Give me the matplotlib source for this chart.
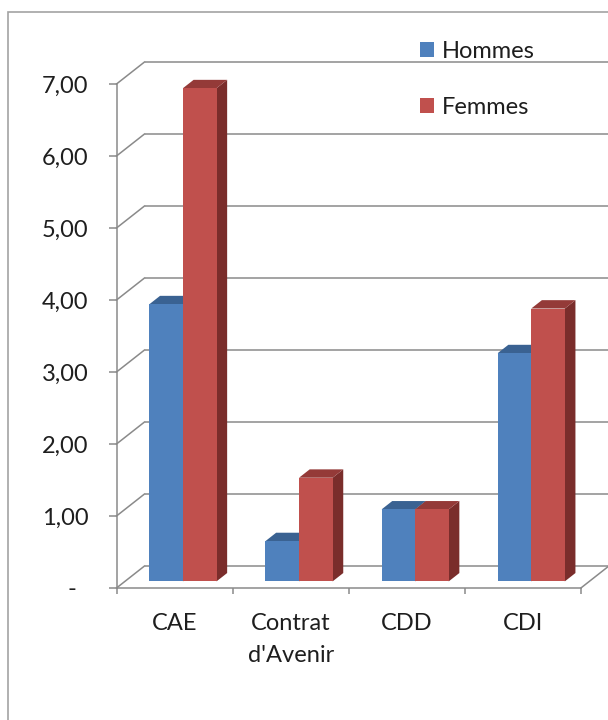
import matplotlib
matplotlib.use("Agg")
import matplotlib.pyplot as plt
from matplotlib.patches import Polygon, Patch, Rectangle

# Contract types and values per gender
categories = ["CAE", "Contrat\nd'Avenir", "CDD", "CDI"]
series_names = ["Hommes", "Femmes"]
hommes = [3.85, 0.56, 1.00, 3.17]
femmes = [6.85, 1.44, 1.00, 3.79]
y_ticks = [0, 1, 2, 3, 4, 5, 6, 7]
y_tick_labels = ["-  ", "1,00", "2,00", "3,00", "4,00", "5,00", "6,00", "7,00"]

# Colours (front, top, side) per series
face_colors = {
    "Hommes": ("#4F81BD", "#3A6292", "#2F5279"),
    "Femmes": ("#C0504D", "#943A38", "#7A2D2B"),
}
grid_color = "#8A8A8A"
text_color = "#1E1E1E"

plt.rcParams["font.family"] = ["Lato", "DejaVu Sans"]
FS = 17

W, H, DPI = 608, 720, 100
fig = plt.figure(figsize=(W / DPI, H / DPI), dpi=DPI)
ax = fig.add_axes([0, 0, 1, 1])

# Pixel geometry of the front plane
x0_px, unit_x = 116.5, 116.1      # category 0 edge and width of one category
y0_px, unit_y = 588.0, 72.0       # value 0 (from top) and px per unit
ax.set_xlim(-x0_px / unit_x, (W - x0_px) / unit_x)
ax.set_ylim(-(H - y0_px) / unit_y, y0_px / unit_y)

# Oblique depth offset of the back wall, in data units
DX = 28.0 / unit_x
DY = 22.0 / unit_y
n = len(categories)
ymax = max(y_ticks)

# Back wall gridlines, left wall diagonals, floor right edge
for v in y_ticks:
    ax.plot([DX, n + DX], [v + DY, v + DY], color=grid_color, lw=1.1,
            solid_capstyle="butt", zorder=1)
    ax.plot([0, DX], [v, v + DY], color=grid_color, lw=1.1, zorder=1)
ax.plot([n, n + DX], [0, DY], color=grid_color, lw=1.1, zorder=1)

# Bars
d0, d1 = 0.30, 0.68
bw = 0.289
for i in range(n):
    for k, (name, vals) in enumerate(zip(series_names, [hommes, femmes])):
        v = vals[i]
        front, top, side = face_colors[name]
        xa = i + 0.5 - bw + k * bw
        xb = xa + bw
        fx, fy = d0 * DX, d0 * DY
        bx, by = d1 * DX, d1 * DY
        ax.add_patch(Polygon([(xb + fx, fy), (xb + bx, by), (xb + bx, v + by),
                              (xb + fx, v + fy)], closed=True, fc=side,
                             ec="none", zorder=3))
        ax.add_patch(Polygon([(xa + fx, v + fy), (xb + fx, v + fy),
                              (xb + bx, v + by), (xa + bx, v + by)],
                             closed=True, fc=top, ec="none", zorder=3))
        ax.add_patch(Rectangle((xa + fx, fy), bw, v, fc=front, ec="none",
                               zorder=3))

# Front axes
for s in ["top", "right"]:
    ax.spines[s].set_visible(False)
ax.spines["left"].set_position(("data", 0))
ax.spines["bottom"].set_position(("data", 0))
ax.spines["left"].set_bounds(0, ymax)
ax.spines["bottom"].set_bounds(0, n)
for s in ["left", "bottom"]:
    ax.spines[s].set_color(grid_color)
    ax.spines[s].set_linewidth(1.1)
    ax.spines[s].set_zorder(2)

ax.set_yticks(y_ticks)
ax.set_yticklabels(y_tick_labels)
ax.tick_params(axis="y", direction="out", length=6, width=1.1,
               color=grid_color, pad=14, labelsize=FS, labelcolor=text_color)

ax.set_xticks(range(n + 1))
ax.set_xticklabels([""] * (n + 1))
ax.tick_params(axis="x", which="major", direction="out", length=4.5,
               width=1.1, color=grid_color)
ax.set_xticks([i + 0.5 for i in range(n)], minor=True)
ax.set_xticklabels(categories, minor=True, linespacing=1.62)
ax.tick_params(axis="x", which="minor", length=0, pad=18, labelsize=FS,
               labelcolor=text_color)

# Legend
handles = [Patch(fc=face_colors[s][0], ec="none") for s in series_names]
fig.legend(handles, series_names, loc="upper left",
           bbox_to_anchor=(408 / W, 1 - 29 / H), frameon=False,
           fontsize=FS, handlelength=0.6, handleheight=0.6,
           handletextpad=0.35, labelspacing=1.48, borderpad=0,
           labelcolor=text_color)

# Chart frame
fig.add_artist(Rectangle((8 / W, -0.05), 1.0, 1.05 - 12 / H,
                         transform=fig.transFigure, fill=False,
                         ec="#A3A3A3", lw=1.2))

fig.savefig("out.png", dpi=DPI)
